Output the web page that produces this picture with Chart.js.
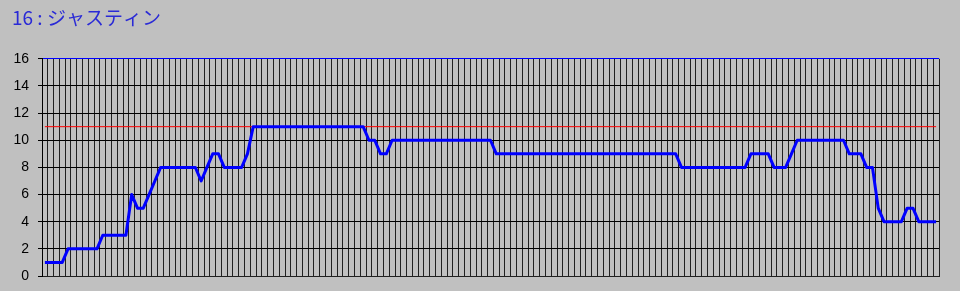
<!DOCTYPE html>
<html>
<head>
<meta charset="utf-8">
<script src="https://cdn.jsdelivr.net/npm/chart.js@4.4.0/dist/chart.umd.min.js"></script>
<style>
html, body { margin: 0; padding: 0; background: #c0c0c0; }
#wrap { width: 960px; height: 291px; }
</style>
</head>
<body>
<div id="wrap"><canvas id="myChart" width="960" height="291"></canvas></div>
<script>
var chartTitle = "16 : ジャスティン";

// one category per race, 155 races
var raceLabels = [];
for (var i = 1; i <= 155; i++) raceLabels.push(String(i));

var rankValues = [
  1, 1, 1, 1,
  2, 2, 2, 2, 2, 2,
  3, 3, 3, 3, 3,
  6, 5, 5, 6, 7,
  8, 8, 8, 8, 8, 8, 8,
  7, 8, 9, 9,
  8, 8, 8, 8, 9,
  11, 11, 11, 11, 11, 11, 11, 11, 11, 11,
  11, 11, 11, 11, 11, 11, 11, 11, 11, 11,
  10, 10, 9, 9,
  10, 10, 10, 10, 10, 10, 10, 10, 10,
  10, 10, 10, 10, 10, 10, 10, 10, 10,
  9, 9, 9, 9, 9, 9, 9, 9, 9, 9, 9, 9, 9, 9, 9, 9,
  9, 9, 9, 9, 9, 9, 9, 9, 9, 9, 9, 9, 9, 9, 9, 9,
  8, 8, 8, 8, 8, 8, 8, 8, 8, 8, 8, 8,
  9, 9, 9, 9,
  8, 8, 8, 9,
  10, 10, 10, 10, 10, 10, 10, 10, 10,
  9, 9, 9,
  8, 8, 5,
  4, 4, 4, 4,
  5, 5,
  4, 4, 4, 4
];

var limitValue = 11;
var yMin = 0;
var yMax = 16;
var yStep = 2;

var ctx = document.getElementById('myChart').getContext('2d');
var myChart = new Chart(ctx, {
  type: 'line',
  data: {
    labels: raceLabels,
    datasets: [{
      data: rankValues,
      borderColor: '#0000ff',
      borderWidth: 3,
      pointRadius: 0,
      fill: false,
      tension: 0,
      borderJoinStyle: 'round'
    }, {
      data: [
        { x: raceLabels[0], y: limitValue },
        { x: raceLabels[raceLabels.length - 1], y: limitValue }
      ],
      borderColor: '#ff0000',
      borderWidth: 1,
      pointRadius: 0,
      fill: false
    }]
  },
  options: {
    responsive: false,
    animation: false,
    devicePixelRatio: 1,
    layout: { padding: { left: 12, right: 21, top: 0, bottom: 15 } },
    plugins: {
      legend: { display: false },
      tooltip: { enabled: false },
      title: {
        display: true,
        text: chartTitle,
        align: 'start',
        color: '#2a2ad6',
        font: { family: "'Noto Sans CJK JP', sans-serif", size: 19, weight: 'normal' },
        padding: { top: 6, bottom: 30 }
      }
    },
    scales: {
      x: {
        offset: true,
        grid: { offset: true, color: '#202020', drawTicks: false },
        ticks: { display: false, autoSkip: false },
        border: { color: '#202020' }
      },
      y: {
        min: yMin,
        max: yMax,
        ticks: {
          stepSize: yStep,
          color: '#000',
          padding: 9,
          font: { family: "'Liberation Sans', Arial, sans-serif", size: 14 }
        },
        grid: {
          color: function (c) { return c.tick && c.tick.value === yMax ? '#0000ff' : '#000'; },
          tickColor: '#000',
          tickLength: 4
        },
        border: { color: '#000' },
        afterFit: function (s) {
          s.width = 30;
          // labels may hang over the plot edges, no extra room needed
          s.paddingTop = 0;
          s.paddingBottom = 0;
        }
      }
    }
  }
});
</script>
</body>
</html>
